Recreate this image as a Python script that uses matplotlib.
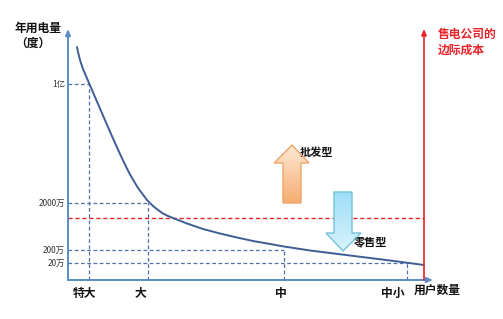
import matplotlib
matplotlib.use("Agg")
import matplotlib.pyplot as plt
import numpy as np
from matplotlib.patches import Polygon

plt.rcParams['font.family'] = ['Noto Sans CJK SC', 'DejaVu Sans']

# user-size categories along the x axis (schematic positions)
categories = ["特大", "大", "中", "中小"]
category_x = [21, 80, 216, 339]

# annual consumption levels on the y axis (schematic positions)
level_labels = ["1亿", "2000万", "200万", "20万"]
level_y = [196, 77, 30, 17]

# marginal cost of the retailer
marginal_cost = 62
cost_x = 356

# consumption curve: users sorted by size
curve_x = [9, 10, 12, 15, 18, 21, 27, 35, 43, 52, 57, 62, 70, 79, 85, 90, 95,
           100, 105, 119, 135, 152, 169, 185, 202, 216, 242, 282, 322, 356]
curve_y = [233, 228, 220, 211, 204, 197, 183, 164.5, 146, 126, 115.5, 105.5,
           92, 80, 74, 70, 66.5, 64, 62, 56.5, 51, 46.5, 42.5, 39, 36, 33.5,
           29.5, 24.5, 19.5, 15]

axis_color = "#5b8cc8"
dash_color = "#4f72a8"
curve_color = "#3e5d95"
red = "#e8242b"

fig = plt.figure(figsize=(5.03, 3.19), dpi=100)
ax = fig.add_axes([0, 0, 1, 1])
ax.set_xlim(-68, 435)
ax.set_ylim(-39, 280)
ax.axis("off")

arrow_style = "-|>,head_length=0.35,head_width=0.15"
# axes with arrowheads
ax.annotate("", xy=(0, 251), xytext=(0, 0),
            arrowprops=dict(arrowstyle=arrow_style, color=axis_color, lw=1.4,
                            shrinkA=0, shrinkB=0))
ax.annotate("", xy=(365, 0), xytext=(0, 0),
            arrowprops=dict(arrowstyle=arrow_style, color=axis_color, lw=1.4,
                            shrinkA=0, shrinkB=0))
ax.annotate("", xy=(cost_x, 251), xytext=(cost_x, 0),
            arrowprops=dict(arrowstyle=arrow_style, color=red, lw=1.2,
                            shrinkA=0, shrinkB=0))

# dashed guide lines
for cx, ly in zip(category_x, level_y):
    ax.plot([0, cx], [ly, ly], ls=(0, (3, 2)), color=dash_color, lw=0.9)
    ax.plot([cx, cx], [0, ly], ls=(0, (3, 2)), color=dash_color, lw=0.9)
ax.plot([0, cost_x], [marginal_cost, marginal_cost], ls=(0, (3, 2)),
        color=red, lw=1.0)

# curve
ax.plot(curve_x, curve_y, color=curve_color, lw=1.4,
        solid_capstyle="round", solid_joinstyle="round")

# labels
for lab, ly in zip(level_labels, level_y):
    ax.text(-3, ly, lab, ha="right", va="center", fontsize=6, color="#333333")
label_shift = [-4.5, -7.5, -3.5, -14]
for lab, cx, dx in zip(categories, category_x, label_shift):
    ax.text(cx + dx, -13, lab, ha="center", va="center", fontsize=8.5,
            fontweight="bold", color="#111111")
ax.text(369, -10, "用户数量", ha="center", va="center", fontsize=8.5,
        fontweight="bold", color="#111111")
ax.text(-53, 244, "年用电量\n（度）", ha="left", va="center", fontsize=8.5,
        fontweight="bold", color="#111111", linespacing=1.25,
        multialignment="left")
ax.text(370, 238, "售电公司的\n边际成本", ha="left", va="center", fontsize=8.5,
        fontweight="bold", color=red, linespacing=1.25)


def gradient_arrow(verts, top_color, bottom_color, edge):
    poly = Polygon(verts, closed=True, facecolor="none", edgecolor=edge, lw=1.0,
                   zorder=4)
    ax.add_patch(poly)
    xs = [v[0] for v in verts]
    ys = [v[1] for v in verts]
    c0 = np.array(matplotlib.colors.to_rgb(bottom_color))
    c1 = np.array(matplotlib.colors.to_rgb(top_color))
    t = np.linspace(0, 1, 100)[:, None]
    grad = (c0 * (1 - t) + c1 * t)[:, None, :]
    im = ax.imshow(grad, extent=[min(xs), max(xs), min(ys), max(ys)],
                   origin="lower", aspect="auto", zorder=3)
    im.set_clip_path(poly)


# wholesale arrow (up)
gradient_arrow([(215, 77), (233, 77), (233, 117), (241, 117), (224, 135),
                (206, 117), (215, 117)], "#fde8d4", "#f6ad72", "#eda46a")
# retail arrow (down)
gradient_arrow([(266, 88), (284, 88), (284, 47), (293, 47), (275, 29),
                (258, 47), (266, 47)], "#9ddff6", "#d9f3fc", "#72c2d8")

ax.text(232, 128, "批发型", ha="left", va="center", fontsize=8,
        fontweight="bold", color="#111111")
ax.text(286, 38, "零售型", ha="left", va="center", fontsize=8,
        fontweight="bold", color="#111111")

fig.savefig("out.png", dpi=100)
